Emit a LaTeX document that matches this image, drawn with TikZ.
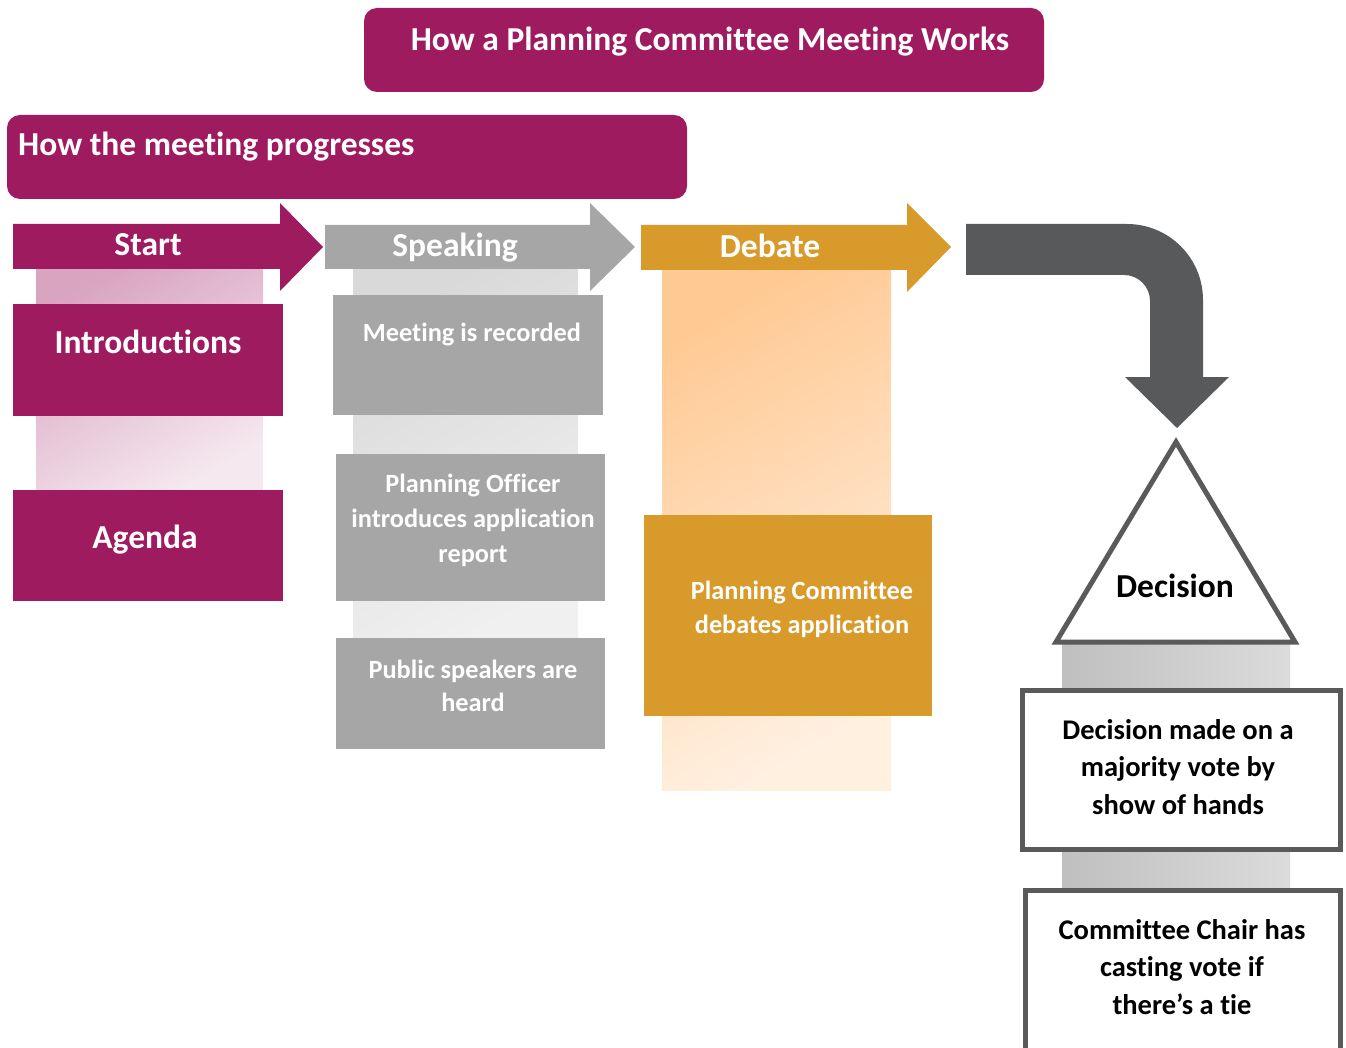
\documentclass[tikz,border=0pt]{standalone}
\usepackage{fontspec}
\setmainfont{Carlito}[Ligatures=NoCommon]
\definecolor{plum}{HTML}{9E1B5F}
\definecolor{midgray}{HTML}{A6A6A6}
\definecolor{gold}{HTML}{D89A2B}
\definecolor{darkarrow}{HTML}{58595B}
\definecolor{edgegray}{HTML}{5A5A5A}
\begin{document}
\begin{tikzpicture}[x=1pt,y=-1pt,
  panel/.style={fill=#1, draw=none, inner sep=0pt, outer sep=0pt, anchor=north west},
  column/.style n args={2}{shade, top color=#1, bottom color=#2, shading angle=30, draw=none, inner sep=0pt, outer sep=0pt, anchor=north west},
  bigtxt/.style={text=white, font=\bfseries\fontsize{33.5}{40}\selectfont, align=center, inner sep=0pt},
  midtxt/.style={text=white, font=\bfseries\fontsize{26.3}{35}\selectfont, align=center, inner sep=0pt},
  blktxt/.style={text=black, font=\bfseries\fontsize{28.5}{37.5}\selectfont, align=center, inner sep=0pt},
  outlinebox/.style={draw=edgegray, line width=5pt, fill=white, inner sep=0pt, outer sep=0pt, anchor=north west}
]
\useasboundingbox (0,0) rectangle (1346,1048);

% header boxes
\node[panel=plum, rounded corners=13pt, minimum width=680pt, minimum height=84pt] (title) at (364,8) {};
\node[bigtxt] (titleT) at (710,42) {How a Planning Committee Meeting Works};
\node[panel=plum, rounded corners=13pt, minimum width=680pt, minimum height=84pt] (sub) at (7,115) {};
\node[bigtxt, anchor=west] (subT) at (18,147) {How the meeting progresses};

% background columns
\node[column={plum!40!white}{plum!10!white}, minimum width=227pt, minimum height=230pt] (col1) at (36,262) {};
\node[column={gray!30!white}{gray!12!white}, minimum width=225pt, minimum height=380pt] (col2) at (353,262) {};
\node[column={orange!42!white}{orange!12!white}, minimum width=229pt, minimum height=528pt] (col3) at (662,262) {};
\node[shade, left color=gray!50!white, right color=gray!28!white, draw=none, inner sep=0pt, outer sep=0pt, anchor=north west, minimum width=228pt, minimum height=260pt] (col4) at (1062,640) {};

% stage arrows
\fill[plum] (13,224) -- (280,224) -- (280,203) -- (323,247) -- (280,291) -- (280,269) -- (13,269) -- cycle;
\node[bigtxt] (startT) at (148,245) {Start};
\fill[midgray] (325,225) -- (590,225) -- (590,203) -- (635,247) -- (590,291) -- (590,269) -- (325,269) -- cycle;
\node[bigtxt] (speakT) at (455,248) {Speaking};
\fill[gold] (641,225) -- (907,225) -- (907,203) -- (951,247) -- (907,292) -- (907,270) -- (641,270) -- cycle;
\node[bigtxt] (debT) at (770,246) {Debate};

% Start column boxes
\node[panel=plum, minimum width=270pt, minimum height=112pt] (intro) at (13,304) {};
\node[bigtxt] (introT) at (148,342) {Introductions};
\node[panel=plum, minimum width=270pt, minimum height=111pt] (agenda) at (13,490) {};
\node[bigtxt] (agendaT) at (145,540) {Agenda};

% Speaking column boxes
\node[panel=midgray, minimum width=270pt, minimum height=120pt] (rec) at (333,295) {};
\node[midtxt] (recT) at (472,335) {Meeting is recorded};
\node[panel=midgray, minimum width=269pt, minimum height=147pt] (officer) at (336,454) {};
\node[midtxt] (officerT) at (473,520) {Planning Officer\\introduces application\\report};
\node[panel=midgray, minimum width=269pt, minimum height=111pt] (public) at (336,638) {};
\node[midtxt, font=\bfseries\fontsize{26.3}{33}\selectfont] (publicT) at (473,686) {Public speakers are\\heard};

% Debate box
\node[panel=gold, minimum width=288pt, minimum height=201pt] (debbox) at (644,515) {};
\node[midtxt, font=\bfseries\fontsize{26.3}{34}\selectfont] (debboxT) at (802,609) {Planning Committee\\debates application};

% bent arrow
\fill[darkarrow] (966,224) -- (1127,224) .. controls (1169,224) and (1203,258) .. (1203,300)
  -- (1203,377) -- (1229,377) -- (1177,428) -- (1125,377) -- (1150,377) -- (1150,301)
  .. controls (1150,286.6) and (1138.4,275) .. (1124,275) -- (966,275) -- cycle;

% decision triangle
\draw[edgegray, line width=5pt, line join=miter, fill=white] (1176,442) -- (1295,642) -- (1056,642) -- cycle;
\node[blktxt, font=\bfseries\fontsize{33.5}{40}\selectfont] (decT) at (1175,586) {Decision};

% decision boxes
\node[outlinebox, minimum width=318pt, minimum height=159pt] (vote) at (1022.5,690.5) {};
\node[blktxt] (voteT) at (1178,767) {Decision made on a\\majority vote by\\show of hands};
\node[outlinebox, minimum width=315pt, minimum height=170pt] (chair) at (1025.5,890.5) {};
\node[blktxt] (chairT) at (1182,967) {Committee Chair has\\casting vote if\\there’s a tie};
\end{tikzpicture}
\end{document}
